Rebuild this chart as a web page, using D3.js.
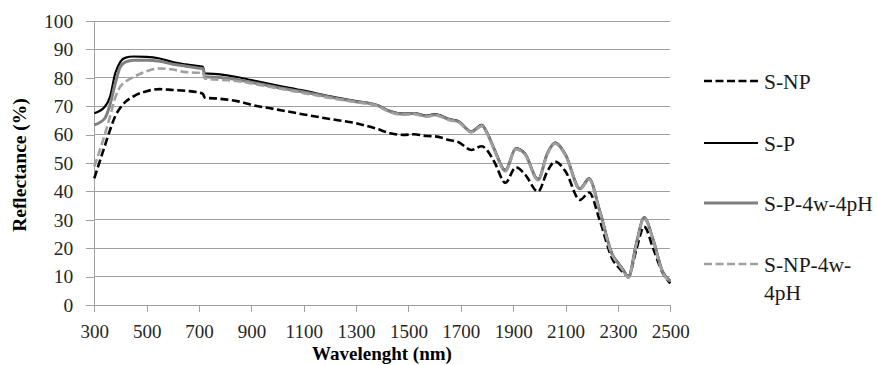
<!DOCTYPE html>
<html>
<head>
<meta charset="utf-8">
<script src="https://cdn.jsdelivr.net/npm/d3@7"></script>
<style>
  html, body { margin: 0; padding: 0; background: #fff; }
  svg { display: block; }
</style>
</head>
<body>
<svg id="chart" width="877" height="365"></svg>
<script>
// ---------- data ----------
const wavelengths = [300, 340, 360, 380, 400, 420, 450, 500, 550, 600, 650, 700, 715, 722, 780, 850, 900, 1000, 1100, 1200, 1300, 1380, 1430, 1480, 1520, 1570, 1600, 1660, 1690, 1740, 1780, 1800, 1830, 1870, 1910, 1945, 1995, 2030, 2060, 2100, 2155, 2190, 2230, 2280, 2300, 2320, 2340, 2370, 2400, 2435, 2470, 2500];

const sNP = [44.6, 56.0, 61.6, 66.5, 69.5, 71.6, 73.5, 75.3, 76.0, 75.7, 75.4, 74.8, 74.3, 73.0, 72.6, 71.7, 70.5, 68.8, 67.1, 65.5, 64.0, 62.0, 60.5, 59.9, 60.1, 59.5, 59.4, 58.0, 57.4, 54.6, 55.9, 54.5, 50.0, 43.0, 48.5, 46.0, 39.9, 47.0, 50.5, 47.0, 37.0, 39.6, 30.0, 16.0, 13.5, 11.5, 10.0, 19.4, 27.6, 19.8, 11.5, 7.6];

const sP = [67.5, 69.8, 73.3, 81.6, 85.7, 87.1, 87.5, 87.4, 86.8, 85.5, 84.7, 84.1, 83.9, 81.6, 81.2, 80.2, 79.2, 77.3, 75.5, 73.5, 71.8, 70.4, 68.3, 67.4, 67.6, 66.7, 67.2, 65.4, 64.8, 61.2, 63.4, 60.8, 54.5, 47.5, 55.2, 53.4, 44.3, 53.4, 57.2, 53.0, 41.1, 44.6, 33.5, 17.6, 15.0, 12.5, 10.0, 21.7, 30.9, 23.0, 12.0, 8.5];

const sP4w4pH = [63.4, 65.7, 70.5, 78.0, 84.0, 85.6, 86.2, 86.2, 85.8, 84.8, 84.1, 83.4, 83.2, 80.4, 80.1, 79.3, 78.4, 76.6, 75.0, 73.2, 71.6, 70.3, 68.1, 67.2, 67.4, 66.5, 67.0, 65.2, 64.6, 61.0, 63.2, 60.6, 54.3, 47.3, 55.0, 53.2, 44.1, 53.2, 57.0, 52.8, 40.9, 44.4, 33.3, 17.4, 14.8, 12.3, 9.8, 21.5, 30.7, 22.8, 11.8, 8.3];

const sNP4w4pH = [48.7, 60.0, 66.3, 73.0, 77.0, 78.7, 80.3, 82.3, 83.3, 82.9, 82.0, 81.8, 81.8, 79.8, 79.3, 78.8, 78.0, 76.3, 74.6, 72.9, 71.4, 70.1, 67.9, 67.0, 67.2, 66.3, 66.8, 65.0, 64.4, 60.8, 63.0, 60.4, 54.1, 47.1, 54.8, 53.0, 43.9, 53.0, 56.8, 52.6, 40.7, 44.2, 33.1, 17.2, 14.6, 12.1, 9.6, 21.3, 30.5, 22.6, 11.6, 8.1];

const seriesNames = ["S-NP", "S-P", "S-P-4w-4pH", "S-NP-4w-4pH"];
const legendLabels = [["S-NP"], ["S-P"], ["S-P-4w-4pH"], ["S-NP-4w-", "4pH"]];
const xTicks = [300, 500, 700, 900, 1100, 1300, 1500, 1700, 1900, 2100, 2300, 2500];
const yTicks = [0, 10, 20, 30, 40, 50, 60, 70, 80, 90, 100];

// ---------- styles ----------
const styles = [
  { color: "#000000", width: 2.6, dash: "8,3.5" },
  { color: "#000000", width: 2.2, dash: null },
  { color: "#808080", width: 3.0, dash: null },
  { color: "#a0a0a0", width: 2.6, dash: "8,3.5" }
];
const seriesValues = [sNP, sP, sP4w4pH, sNP4w4pH];

const svg = d3.select("#chart");
const pLeft = 94.3, pRight = 670.3, pTop = 21, pBottom = 305;

const x = d3.scaleLinear().domain([300, 2500]).range([pLeft, pRight]);
const y = d3.scaleLinear().domain([0, 100]).range([pBottom, pTop]);

const font = "'Liberation Serif', 'Times New Roman', serif";

// gridlines
svg.append("g")
  .selectAll("line")
  .data(yTicks.filter(d => d > 0))
  .join("line")
  .attr("x1", pLeft).attr("x2", pRight)
  .attr("y1", d => y(d)).attr("y2", d => y(d))
  .attr("stroke", "#a0a0a0").attr("stroke-width", 1)
  .attr("shape-rendering", "crispEdges");

// y axis
const yAxis = svg.append("g")
  .attr("transform", `translate(${pLeft},0)`)
  .call(d3.axisLeft(y).tickValues(yTicks).tickSize(8).tickPadding(13));
yAxis.select(".domain").attr("stroke", "#a0a0a0").attr("shape-rendering", "crispEdges");
yAxis.selectAll(".tick line").attr("stroke", "#a0a0a0").attr("shape-rendering", "crispEdges");
yAxis.selectAll("text").attr("font-family", font).attr("font-size", "19.5px").attr("fill", "#262626");

// x axis
const xAxis = svg.append("g")
  .attr("transform", `translate(0,${pBottom})`)
  .call(d3.axisBottom(x).tickValues(xTicks).tickFormat(d3.format("d")).tickSize(7).tickPadding(13));
xAxis.select(".domain").attr("stroke", "#a0a0a0").attr("shape-rendering", "crispEdges");
xAxis.selectAll(".tick line").attr("stroke", "#a0a0a0").attr("shape-rendering", "crispEdges");
xAxis.selectAll("text").attr("font-family", font).attr("font-size", "19px").attr("fill", "#262626");

// lines
const line = d3.line()
  .x(d => x(d[0]))
  .y(d => y(d[1]))
  .curve(d3.curveMonotoneX);

seriesValues.forEach((vals, i) => {
  const pts = wavelengths.map((w, k) => [w, vals[k]]);
  svg.append("path")
    .datum(pts)
    .attr("d", line)
    .attr("fill", "none")
    .attr("stroke", styles[i].color)
    .attr("stroke-width", styles[i].width)
    .attr("stroke-dasharray", styles[i].dash)
    .attr("stroke-linejoin", "round");
});

// axis titles
svg.append("text")
  .attr("transform", "translate(26,165) rotate(-90)")
  .attr("text-anchor", "middle")
  .attr("font-family", font).attr("font-weight", "bold").attr("font-size", "19.5px")
  .attr("fill", "#000")
  .text("Reflectance (%)");

svg.append("text")
  .attr("x", 382).attr("y", 360)
  .attr("text-anchor", "middle")
  .attr("font-family", font).attr("font-weight", "bold").attr("font-size", "19px")
  .attr("fill", "#000")
  .text("Wavelenght (nm)");

// legend
const legendY = [81, 143, 203, 264];
const legend = svg.append("g");
seriesNames.forEach((name, i) => {
  legend.append("line")
    .attr("x1", 704).attr("x2", 758)
    .attr("y1", legendY[i]).attr("y2", legendY[i])
    .attr("stroke", styles[i].color)
    .attr("stroke-width", styles[i].width)
    .attr("stroke-dasharray", styles[i].dash);
  const t = legend.append("text")
    .attr("font-family", font).attr("font-size", "21.5px").attr("fill", "#1a1a1a");
  legendLabels[i].forEach((s, j) => {
    t.append("tspan")
      .attr("x", 764)
      .attr("y", legendY[i] + j * 28.5)
      .attr("dy", "0.35em")
      .text(s);
  });
});
</script>
</body>
</html>
